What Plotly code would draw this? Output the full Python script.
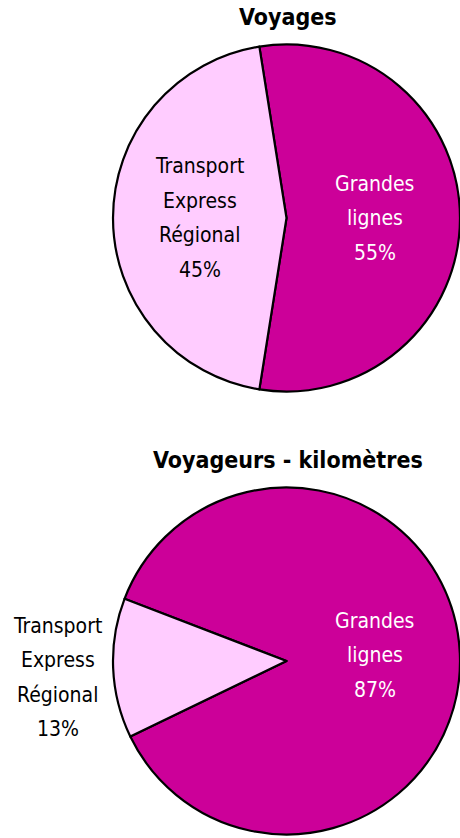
import math
import plotly.graph_objects as go

# data
segments = ["Grandes lignes", "Transport Express Régional"]
label_lines = [["Grandes", "lignes"], ["Transport", "Express", "Régional"]]
voyages_pct = [55, 45]
voyageurs_km_pct = [87, 13]
titles = ["Voyages", "Voyageurs - kilomètres"]

# style
colors = ["#CC0099", "#FFCCFF"]
text_colors = ["white", "black"]
FONT = "DejaVu Sans Condensed, Liberation Sans Narrow, sans-serif"
W, H = 460, 838
R = 173.5          # pie radius in px
CX = 286.5         # pie centre x in px
LINE = 34.5        # label line spacing in px


def px_x(x):
    return x / W


def px_y(y):
    return 1 - y / H


panels = [
    dict(values=voyages_pct, title=titles[0], cy=218, title_y=17, rotation=-9,
         fracs=[0.51, 0.5], dys=[0, 0]),
    dict(values=voyageurs_km_pct, title=titles[1], cy=661, title_y=460, rotation=-69,
         fracs=[0.51, 1.32], dys=[-2, 7]),
]

fig = go.Figure()
annotations = []

for p in panels:
    fig.add_trace(go.Pie(
        labels=segments,
        values=p["values"],
        sort=False,
        direction="clockwise",
        rotation=p["rotation"],
        marker=dict(colors=colors, line=dict(color="black", width=2.2)),
        textinfo="none",
        hoverinfo="label+percent",
        showlegend=False,
        domain=dict(x=[px_x(CX - R), 1.0],
                    y=[px_y(p["cy"] + R), px_y(p["cy"] - R)]),
    ))

    annotations.append(dict(
        text="<b>%s</b>" % p["title"], x=px_x(CX + 1), y=px_y(p["title_y"]),
        xref="paper", yref="paper", xanchor="center", yanchor="middle",
        showarrow=False, font=dict(family=FONT, size=23, color="black"),
    ))

    # labels placed along each slice's bisector
    total = sum(p["values"])
    start = p["rotation"]
    for i, v in enumerate(p["values"]):
        mid = math.radians(start + v / total * 180)
        start += v / total * 360
        lx = CX + p["fracs"][i] * R * math.sin(mid)
        ly = p["cy"] - p["fracs"][i] * R * math.cos(mid) + p["dys"][i]
        lines = label_lines[i] + ["%d%%" % v]
        col = text_colors[i] if p["fracs"][i] < 1 else "black"
        n = len(lines)
        for j, t in enumerate(lines):
            annotations.append(dict(
                text=t, x=px_x(lx), y=px_y(ly + (j - (n - 1) / 2) * LINE),
                xref="paper", yref="paper", xanchor="center", yanchor="middle",
                showarrow=False, font=dict(family=FONT, size=21, color=col),
            ))

fig.update_layout(
    width=W, height=H,
    margin=dict(l=0, r=0, t=0, b=0),
    paper_bgcolor="white",
    plot_bgcolor="white",
    annotations=annotations,
)

# drop the page's default body margin so the figure sits at (0, 0)
fig.write_html("out.html", config={"displayModeBar": False},
               post_script="document.body.style.margin = '0';")
